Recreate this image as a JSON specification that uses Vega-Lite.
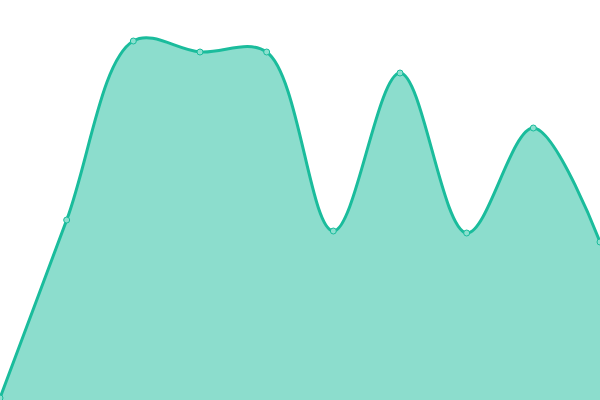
{
  "$schema": "https://vega.github.io/schema/vega-lite/v6.json",
  "width": 600,
  "height": 400,
  "autosize": {"type": "none"},
  "padding": 0,
  "background": "white",
  "data": {
    "values": [
      {"i": 0, "v": 2},
      {"i": 1, "v": 180},
      {"i": 2, "v": 359},
      {"i": 3, "v": 348},
      {"i": 4, "v": 348},
      {"i": 5, "v": 169},
      {"i": 6, "v": 327},
      {"i": 7, "v": 167},
      {"i": 8, "v": 272},
      {"i": 9, "v": 158}
    ]
  },
  "encoding": {
    "x": {"field": "i", "type": "quantitative", "axis": null, "scale": {"domain": [0, 9], "nice": false, "zero": false}},
    "y": {"field": "v", "type": "quantitative", "axis": null, "scale": {"domain": [0, 400], "nice": false}}
  },
  "layer": [
    {"mark": {"type": "area", "interpolate": "catmull-rom", "color": "#1abc9c", "opacity": 0.5}},
    {"mark": {"type": "line", "interpolate": "catmull-rom", "color": "#1abc9c", "strokeWidth": 3}},
    {"mark": {"type": "point", "filled": true, "fill": "#8ce0cf", "stroke": "#1abc9c", "strokeWidth": 1, "opacity": 1, "size": 36}}
  ],
  "config": {"view": {"stroke": null}}
}
